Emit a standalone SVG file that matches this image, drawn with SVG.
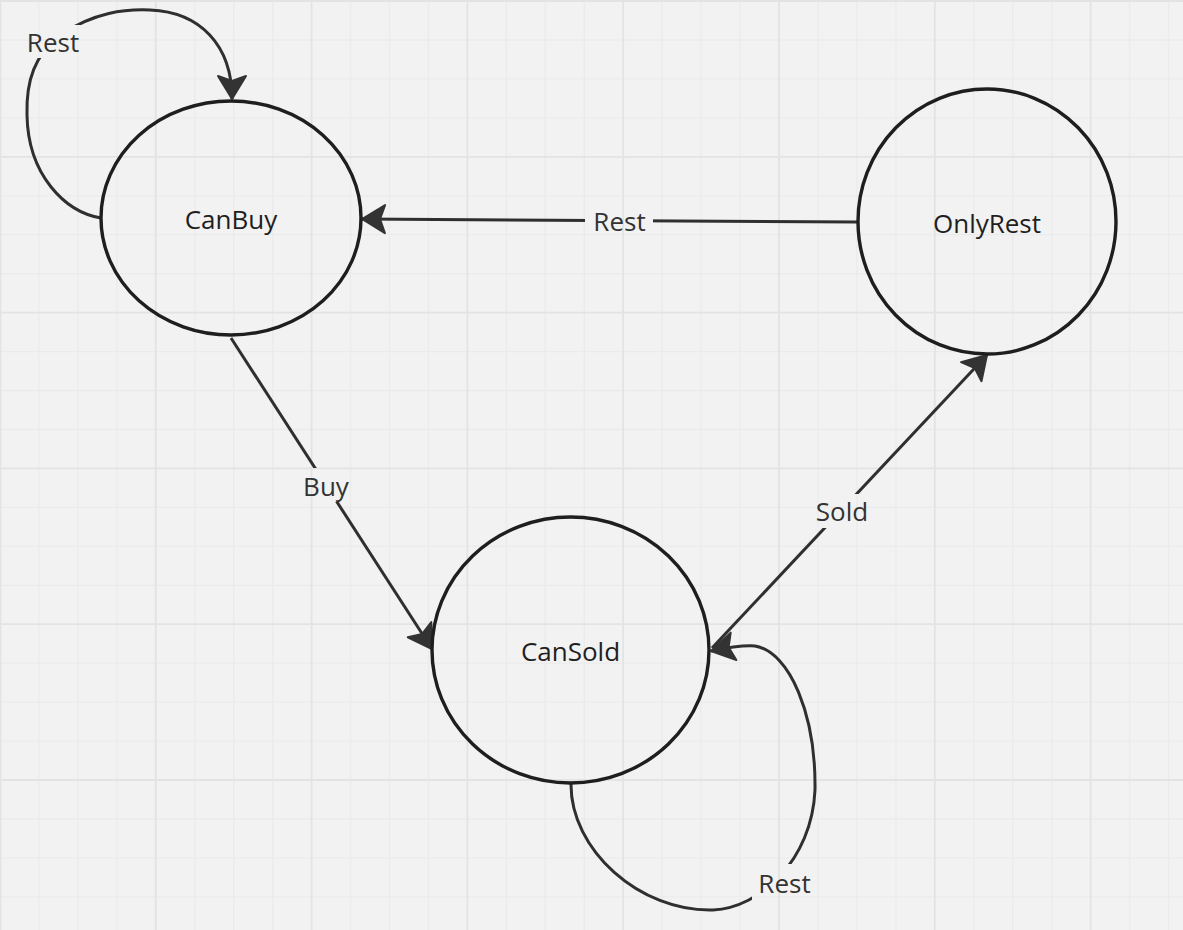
<svg xmlns="http://www.w3.org/2000/svg" width="1183" height="930" viewBox="0 0 1183 930">
<style>
.node{fill:none;stroke:#1e1e1e;stroke-width:3.4}
.ntext{font-family:"Open Sans","Noto Sans","Liberation Sans",sans-serif;font-size:26px;fill:#1f1f1f;text-anchor:middle}
.edge{fill:none;stroke:#2f2f2f;stroke-width:3;marker-end:url(#arrow)}
.elabel{font-family:"Open Sans","Noto Sans","Liberation Sans",sans-serif;font-size:26px;fill:#333;text-anchor:middle}
.minor{fill:none;stroke:#ebebeb;stroke-width:1.3}
.major{fill:none;stroke:#e3e3e3;stroke-width:1.8}
</style>
<defs>
<marker id="arrow" markerUnits="userSpaceOnUse" viewBox="-2 -17 28 34" markerWidth="28" markerHeight="34" refX="23" refY="0" orient="auto">
<path d="M0,-14 L23,0 L0,14 L5,0 Z" fill="#333" stroke="#333" stroke-width="2" stroke-linejoin="round"/>
</marker>
<mask id="gaps" maskUnits="userSpaceOnUse" x="0" y="0" width="1183" height="930">
<rect x="0" y="0" width="1183" height="930" fill="#fff"/>
<rect x="20" y="25" width="66" height="33" fill="#000"/>
<rect x="585" y="203" width="68" height="36" fill="#000"/>
<rect x="298" y="468" width="56" height="34" fill="#000"/>
<rect x="812" y="494" width="60" height="34" fill="#000"/>
<rect x="752" y="864" width="66" height="37" fill="#000"/>
</mask>
</defs>
<rect x="0" y="0" width="1183" height="930" fill="#f2f2f2"/>
<g id="grid">
<path class="minor" d="M39,0V930M77.9,0V930M116.9,0V930M194.8,0V930M233.7,0V930M272.7,0V930M350.6,0V930M389.5,0V930M428.5,0V930M506.4,0V930M545.3,0V930M584.3,0V930M662.2,0V930M701.1,0V930M740.1,0V930M818,0V930M856.9,0V930M895.9,0V930M973.8,0V930M1012.7,0V930M1051.7,0V930M1129.6,0V930M1168.5,0V930
M0,40H1183M0,78.9H1183M0,117.9H1183M0,195.8H1183M0,234.7H1183M0,273.7H1183M0,351.6H1183M0,390.5H1183M0,429.5H1183M0,507.4H1183M0,546.3H1183M0,585.3H1183M0,663.2H1183M0,702.1H1183M0,741.1H1183M0,819H1183M0,857.9H1183M0,896.9H1183"/>
<path class="major" d="M0.5,0V930M155.8,0V930M311.6,0V930M467.4,0V930M623.2,0V930M779,0V930M934.8,0V930M1090.6,0V930
M0,1H1183M0,156.8H1183M0,312.6H1183M0,468.4H1183M0,624.2H1183M0,780H1183"/>
</g>
<g id="connectors">
<g mask="url(#gaps)">
<path class="edge" d="M101,218 C65,212 28,175 27,115 C26,80 35,55 60,35 C95,12 125,9 150,10 C200,12 232,45 232,99"/>
<path class="edge" d="M857,222 L362,219"/>
<path class="edge" d="M231,338 L432,649"/>
<path class="edge" d="M712,648 L987,355"/>
<path class="edge" d="M571,783 C570,850 640,912 713,910 C760,908 812,860 815,790 C816,715 790,652 755,646 Q740,645 711,651"/>
</g>
<text class="elabel" x="53" y="52">Rest</text>
<text class="elabel" x="619.5" y="231">Rest</text>
<text class="elabel" x="326" y="496">Buy</text>
<text class="elabel" x="842" y="521">Sold</text>
<text class="elabel" x="784.5" y="893">Rest</text>
</g>
<g id="CanBuy">
<ellipse class="node" cx="231" cy="218" rx="130" ry="117"/>
<text class="ntext" x="231" y="229">CanBuy</text>
</g>
<g id="OnlyRest">
<ellipse class="node" cx="987" cy="221.5" rx="129" ry="132.5"/>
<text class="ntext" x="987" y="233">OnlyRest</text>
</g>
<g id="CanSold">
<ellipse class="node" cx="570.5" cy="650" rx="138.5" ry="133"/>
<text class="ntext" x="570.5" y="661">CanSold</text>
</g>
</svg>
